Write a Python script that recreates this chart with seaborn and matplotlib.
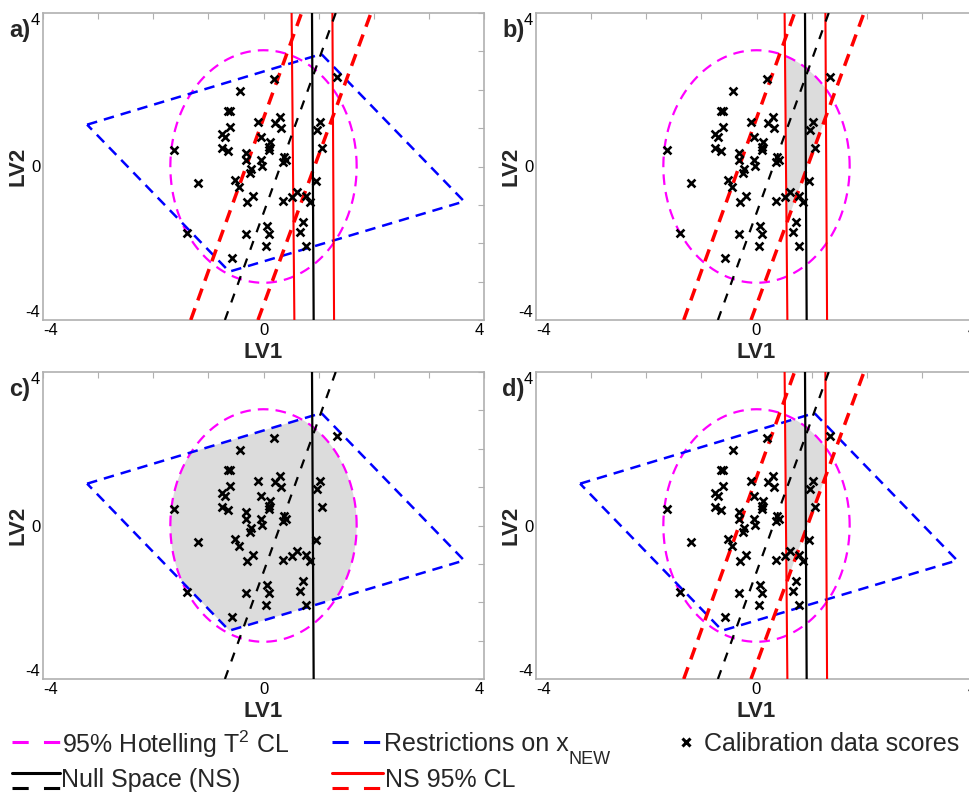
import numpy as np
import pandas as pd
import matplotlib
matplotlib.use("Agg")
import matplotlib.pyplot as plt
from matplotlib.lines import Line2D
from matplotlib.patches import Polygon
import seaborn as sns

# Calibration data scores on the first two latent variables
lv1_scores = [0.19, -0.42, 1.34, -0.65, -0.60, -0.10, 0.30, 0.21, 0.31, -0.61,
              -0.76, -0.70, -0.04, 0.11, 0.10, 0.10, -0.76, -0.65, -1.62, -0.32,
              -0.31, 0.38, 0.41, 0.36, -0.04, -0.03, -0.22, -0.24, 1.02, 0.97,
              1.07, 0.96, -1.19, -0.51, -0.44, -0.19, -0.30, 0.36, 0.51, 0.61,
              0.77, 0.85, 0.71, 0.67, 0.06, 0.10, -0.31, 0.05, 0.77, -1.38,
              -0.57]
lv2_scores = [2.29, 1.96, 2.34, 1.45, 1.45, 1.17, 1.30, 1.13, 1.01, 1.03,
              0.85, 0.78, 0.77, 0.63, 0.51, 0.43, 0.49, 0.40, 0.44, 0.34,
              0.18, 0.26, 0.16, 0.13, 0.16, 0.02, -0.06, -0.18, 1.17, 0.96,
              0.48, -0.39, -0.44, -0.35, -0.53, -0.76, -0.93, -0.90, -0.80, -0.67,
              -0.77, -0.93, -1.44, -1.70, -1.54, -1.77, -1.77, -2.06, -2.06, -1.73,
              -2.39]

# 95% Hotelling T2 confidence limit: centre and semi-axes (LV1, LV2)
t2_center = [0.0, 0.0]
t2_semi_axes = [1.69, 3.03]

# Corners of the region allowed by the restrictions on x_NEW
restr_lv1 = [-3.20, 1.05, 3.64, -0.62]
restr_lv2 = [1.09, 2.93, -0.91, -2.74]

# Straight lines, given by their LV1 value at LV2 = -4 and at LV2 = +4
line_lv2 = [-4.0, 4.0]
ns_solid = [0.91, 0.88]
ns_dashed = [-0.70, 1.31]
ns_cl_solid_low = [0.56, 0.51]
ns_cl_solid_high = [1.28, 1.25]
ns_cl_dashed_low = [-1.32, 0.69]
ns_cl_dashed_high = [-0.10, 1.95]

panel_names = ["a)", "b)", "c)", "d)"]
tick_values = [-4, -3, -2, -1, 0, 1, 2, 3, 4]
tick_labels = ["-4", "", "", "", "0", "", "", "", "4"]

legend_labels = ["95% Hotelling T$^2$ CL", "Restrictions on x", "NEW",
                 "Calibration data scores", "Null Space (NS)", "NS 95% CL"]

MAGENTA = "#ff00ff"
BLUE = "#0000ff"
RED = "#ff0000"
FILL = "#dcdcdc"
FRAME = "#b0b0b0"

sns.set_theme(style="white")
plt.rcParams["font.family"] = ["Liberation Sans", "DejaVu Sans"]
plt.rcParams["mathtext.fontset"] = "custom"
plt.rcParams["mathtext.rm"] = "Liberation Sans"
plt.rcParams["mathtext.it"] = "Liberation Sans"
plt.rcParams["mathtext.default"] = "regular"


def clip_convex(subject, clipper):
    """Sutherland-Hodgman clipping of a polygon by a convex polygon."""
    clipper = np.asarray(clipper, float)
    x, y = clipper[:, 0], clipper[:, 1]
    if 0.5 * np.sum(x * np.roll(y, -1) - np.roll(x, -1) * y) < 0:
        clipper = clipper[::-1]
    out = [tuple(p) for p in subject]
    n = len(clipper)
    for i in range(n):
        a = clipper[i]
        b = clipper[(i + 1) % n]

        def side(p):
            return (b[0] - a[0]) * (p[1] - a[1]) - (b[1] - a[1]) * (p[0] - a[0])

        def cross_point(p, q):
            sp, sq = side(p), side(q)
            t = sp / (sp - sq)
            return (p[0] + t * (q[0] - p[0]), p[1] + t * (q[1] - p[1]))

        inp = out
        out = []
        if not inp:
            break
        for j in range(len(inp)):
            p = inp[j]
            q = inp[(j + 1) % len(inp)]
            p_in, q_in = side(p) >= 0, side(q) >= 0
            if q_in:
                if not p_in:
                    out.append(cross_point(p, q))
                out.append(q)
            elif p_in:
                out.append(cross_point(p, q))
    return out


def band(low, high):
    return [(low[0], line_lv2[0]), (high[0], line_lv2[0]),
            (high[1], line_lv2[1]), (low[1], line_lv2[1])]


theta = np.linspace(0, 2 * np.pi, 721)
ell_x = t2_center[0] + t2_semi_axes[0] * np.cos(theta)
ell_y = t2_center[1] + t2_semi_axes[1] * np.sin(theta)
ellipse_pts = list(zip(ell_x[:-1], ell_y[:-1]))
restr_pts = list(zip(restr_lv1, restr_lv2))

region_solid = band(ns_cl_solid_low, ns_cl_solid_high)
region_dashed = band(ns_cl_dashed_low, ns_cl_dashed_high)

fill_b = clip_convex(clip_convex(ellipse_pts, region_solid), region_dashed)
fill_c = clip_convex(ellipse_pts, restr_pts)
fill_d = clip_convex(fill_b, restr_pts)

panels = [
    dict(restr=True, cl=True, fill=None),
    dict(restr=False, cl=True, fill=fill_b),
    dict(restr=True, cl=False, fill=fill_c),
    dict(restr=True, cl=True, fill=fill_d),
]

fig = plt.figure(figsize=(9.7, 7.99), dpi=100)
W, H = 970.0, 799.0
axes_px = [(43, 13), (536, 13), (43, 372), (536, 372)]
ax_w, ax_h = 441, 307


def draw_line(ax, xs, ys, color, lw, ls):
    df = pd.DataFrame({"x": xs, "y": ys})
    sns.lineplot(data=df, x="x", y="y", sort=False, estimator=None,
                 color=color, linewidth=lw, linestyle=ls, ax=ax, zorder=3)


for k, (spec, (px, py)) in enumerate(zip(panels, axes_px)):
    ax = fig.add_axes([px / W, 1 - (py + ax_h) / H, ax_w / W, ax_h / H])

    if spec["fill"]:
        ax.add_patch(Polygon(spec["fill"], closed=True, facecolor=FILL,
                             edgecolor="none", zorder=1))

    # Hotelling T2 ellipse
    draw_line(ax, ell_x, ell_y, MAGENTA, 1.6, (0, (4.8, 3.2)))

    # restrictions on x_NEW
    if spec["restr"]:
        draw_line(ax, restr_lv1 + restr_lv1[:1], restr_lv2 + restr_lv2[:1],
                  BLUE, 1.8, (0, (4.2, 2.8)))

    # null space 95% confidence limits
    if spec["cl"]:
        for xs in (ns_cl_dashed_low, ns_cl_dashed_high):
            draw_line(ax, xs, line_lv2, RED, 2.5, (0, (3.6, 2.4)))
        for xs in (ns_cl_solid_low, ns_cl_solid_high):
            draw_line(ax, xs, line_lv2, RED, 1.5, "-")

    # null space
    draw_line(ax, ns_dashed, line_lv2, "black", 1.6, (0, (4.2, 4.2)))
    draw_line(ax, ns_solid, line_lv2, "black", 1.6, "-")

    sns.scatterplot(x=lv1_scores, y=lv2_scores, marker="x", color="black",
                    s=32, linewidth=1.9, ax=ax, zorder=5, legend=False)

    ax.set_xlim(-4, 4)
    ax.set_ylim(-4, 4)
    ax.set_xticks(tick_values)
    ax.set_xticklabels(tick_labels)
    ax.set_yticks(tick_values)
    ax.set_yticklabels(tick_labels)
    ax.tick_params(direction="in", top=True, right=True, length=4, width=0.8,
                   color=FRAME, labelsize=12, pad=2, labelcolor="black")
    # keep the end labels inside the axis extent
    xt = ax.get_xticklabels()
    xt[0].set_ha("left")
    xt[-1].set_ha("right")
    yt = ax.get_yticklabels()
    yt[0].set_va("bottom")
    yt[-1].set_va("top")
    for sp in ax.spines.values():
        sp.set_color(FRAME)
        sp.set_linewidth(1.2)
    ax.set_xlabel("LV1", fontsize=16, fontweight="bold", labelpad=3)
    ax.set_ylabel("LV2", fontsize=16, fontweight="bold", labelpad=-2)

    fig.text((px - 34) / W, 1 - (py + 17) / H, panel_names[k],
             fontsize=17, fontweight="bold", ha="left", va="center")


# legend along the bottom of the figure
def fx(v):
    return v / W


def fy(v):
    return 1 - v / H


def legend_line(x0, x1, y, color, lw, ls):
    fig.add_artist(Line2D([fx(x0), fx(x1)], [fy(y), fy(y)], color=color,
                          linewidth=lw, linestyle=ls,
                          transform=fig.transFigure))


leg_fs = 18
legend_line(12, 60, 742, MAGENTA, 2.2, (0, (5.3, 5.0)))
fig.text(fx(62), fy(744), legend_labels[0], fontsize=leg_fs, va="center", ha="left")

legend_line(332, 383, 742, BLUE, 2.2, (0, (5.3, 5.0)))
restr_text = fig.text(fx(384), fy(744), legend_labels[1], fontsize=leg_fs,
                      va="center", ha="left")
fig.canvas.draw()
bbox = restr_text.get_window_extent(renderer=fig.canvas.get_renderer())
fig.text(bbox.x1 / fig.bbox.width, fy(760), legend_labels[2], fontsize=13,
         va="center", ha="left")

fig.add_artist(Line2D([fx(686)], [fy(742)], marker="x", color="black",
                      markersize=6, markeredgewidth=2.2, linestyle="none",
                      transform=fig.transFigure))
fig.text(fx(704), fy(744), legend_labels[3], fontsize=leg_fs, va="center", ha="left")

legend_line(12, 60, 773, "black", 2.2, "-")
legend_line(12, 60, 788, "black", 2.2, (0, (5.3, 5.0)))
fig.text(fx(61), fy(780), legend_labels[4], fontsize=leg_fs, va="center", ha="left")

legend_line(332, 383, 773, RED, 2.2, "-")
legend_line(332, 383, 788, RED, 2.2, (0, (5.3, 5.0)))
fig.text(fx(385), fy(780), legend_labels[5], fontsize=leg_fs, va="center", ha="left")

fig.savefig("out.png", dpi=100)
